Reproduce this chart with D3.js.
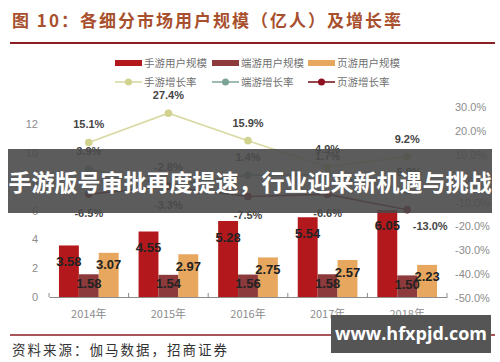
<!DOCTYPE html>
<html>
<head>
<meta charset="utf-8">
<script src="https://cdn.jsdelivr.net/npm/d3@7"></script>
<style>
  body { margin: 0; background: #fff; }
  svg { display: block; font-family: "Liberation Sans", Arial, "Noto Sans CJK SC", sans-serif; }
</style>
</head>
<body>
<svg id="chart" width="500" height="362"></svg>
<script>
const years = ["2014年", "2015年", "2016年", "2017年", "2018年"];
const barSeries = ["手游用户规模", "端游用户规模", "页游用户规模"];
const lineSeries = ["手游增长率", "端游增长率", "页游增长率"];

// user scale, 亿人
const mobileUsers = [3.58, 4.55, 5.28, 5.54, 6.05];
const pcUsers = [1.58, 1.54, 1.56, 1.58, 1.50];
const webUsers = [3.07, 2.97, 2.75, 2.57, 2.23];

// growth rate, %
const mobileGrowth = [15.1, 27.4, 15.9, 4.9, 9.2];
const pcGrowth = [3.9, -2.8, 1.4, 1.7, -5.0];
const webGrowth = [-6.5, -3.3, -7.5, -6.6, -13.0];

const leftTicks = [0, 2, 4, 6, 8, 10, 12];
const rightTicks = [-50, -40, -30, -20, -10, 0, 10, 20, 30];

const barColors = ["#b3191c", "#8c3a3b", "#e8a75e"];
const lineColors = ["#d9d9a3", "#86aa9f", "#7e1b22"];
const dotColors = ["#d2d28f", "#7ba497", "#8e0f1f"];
const barLabelDy = [16, 9, 12];

const svg = d3.select("#chart");

// title
svg.append("text")
    .attr("x", 12).attr("y", 27)
    .attr("font-family", "'Noto Sans CJK SC', sans-serif")
    .attr("font-size", 17).attr("font-weight", "bold")
    .attr("letter-spacing", 2)
    .attr("fill", "#a8502e")
    .text("图 10：各细分市场用户规模（亿人）及增长率");

svg.append("line")
    .attr("x1", 10).attr("x2", 495).attr("y1", 43).attr("y2", 43)
    .attr("stroke", "#8b1e22").attr("stroke-width", 2);

// scales
const x = d3.scaleBand().domain(years).range([49, 447]);
const x1 = d3.scaleBand().domain(barSeries).range([0, x.bandwidth()]).paddingOuter(0.5);
const yL = d3.scaleLinear().domain([0, 13.2]).range([297, 107]);
const yR = d3.scaleLinear().domain([-50, 30]).range([298, 107]);

// left axis
const gL = svg.append("g")
    .attr("transform", "translate(40,0)")
    .call(d3.axisLeft(yL).tickValues(leftTicks).tickSize(0).tickPadding(2));
gL.select(".domain").remove();
gL.selectAll("text").attr("fill", "#8c8c8c").attr("font-size", 11);

// right axis
const gR = svg.append("g")
    .attr("transform", "translate(453,0)")
    .call(d3.axisRight(yR).tickValues(rightTicks).tickSize(0).tickPadding(2)
        .tickFormat(d => d.toFixed(1) + "%"));
gR.select(".domain").remove();
gR.selectAll("text").attr("fill", "#8c8c8c").attr("font-size", 11);

// x axis
const gX = svg.append("g")
    .attr("transform", "translate(0,297)")
    .call(d3.axisBottom(x).tickSize(0).tickPadding(13));
gX.select(".domain").attr("stroke", "#8c8c8c");
gX.selectAll("text").attr("fill", "#8c8c8c").attr("font-size", 11)
    .attr("font-family", "'Noto Sans CJK SC', sans-serif");
const bounds = years.map(d => x(d)).concat([x(years[years.length - 1]) + x.step()]);
svg.append("g").selectAll("line")
    .data(bounds)
    .join("line")
    .attr("x1", d => d).attr("x2", d => d)
    .attr("y1", 297).attr("y2", 293)
    .attr("stroke", "#8c8c8c");

// bars
const barData = [mobileUsers, pcUsers, webUsers];
barData.forEach((vals, si) => {
    const g = svg.append("g");
    g.selectAll("rect")
        .data(vals)
        .join("rect")
        .attr("x", (d, i) => x(years[i]) + x1(barSeries[si]))
        .attr("y", d => yL(d))
        .attr("width", x1.bandwidth())
        .attr("height", d => yL(0) - yL(d))
        .attr("fill", barColors[si]);
});
barData.forEach((vals, si) => {
    svg.append("g").selectAll("text")
        .data(vals)
        .join("text")
        .attr("x", (d, i) => x(years[i]) + x1(barSeries[si]) + x1.bandwidth() / 2)
        .attr("y", d => yL(d) + barLabelDy[si])
        .attr("dy", "0.35em")
        .attr("text-anchor", "middle")
        .attr("font-family", "'Liberation Sans Narrow', 'Liberation Sans', sans-serif")
        .attr("font-size", 13).attr("font-weight", "bold")
        .attr("fill", "#222")
        .text(d => d.toFixed(2));
});

// lines
const lineData = [mobileGrowth, pcGrowth, webGrowth];
const cx = i => x(years[i]) + x.bandwidth() / 2;
const line = d3.line().x((d, i) => cx(i)).y(d => yR(d));
lineData.forEach((vals, si) => {
    svg.append("path")
        .datum(vals)
        .attr("fill", "none")
        .attr("stroke", lineColors[si])
        .attr("stroke-width", 1.6)
        .attr("d", line);
    svg.append("g").selectAll("circle")
        .data(vals)
        .join("circle")
        .attr("cx", (d, i) => cx(i))
        .attr("cy", d => yR(d))
        .attr("r", 3.8)
        .attr("fill", dotColors[si]);
});

// growth labels
lineData.forEach((vals, si) => {
    svg.append("g").selectAll("text")
        .data(vals)
        .join("text")
        .attr("x", (d, i) => cx(i) + (si === 2 && i === vals.length - 1 ? 23 : 0))
        .attr("y", (d, i) => {
            if (si === 2) return yR(d) + (i === vals.length - 1 ? 16 : 19);
            return yR(d) - 18;
        })
        .attr("dy", "0.35em")
        .attr("text-anchor", "middle")
        .attr("font-size", 11).attr("font-weight", "bold")
        .attr("fill", "#454545")
        .text(d => d.toFixed(1) + "%");
});

// legend
const legendX = [115, 212, 308];
const lg = svg.append("g")
    .attr("font-family", "'Noto Sans CJK SC', sans-serif")
    .attr("font-size", 10.5).attr("fill", "#707070");
barSeries.forEach((s, i) => {
    lg.append("rect").attr("x", legendX[i]).attr("y", 60).attr("width", 27).attr("height", 6)
        .attr("fill", barColors[i]);
    lg.append("text").attr("x", legendX[i] + 29).attr("y", 63).attr("dy", "0.35em").text(s);
});
lineSeries.forEach((s, i) => {
    lg.append("line").attr("x1", legendX[i]).attr("x2", legendX[i] + 27)
        .attr("y1", 82).attr("y2", 82).attr("stroke", lineColors[i]).attr("stroke-width", 1.6);
    lg.append("circle").attr("cx", legendX[i] + 13.5).attr("cy", 82).attr("r", 3.5)
        .attr("fill", dotColors[i]);
    lg.append("text").attr("x", legendX[i] + 29).attr("y", 82).attr("dy", "0.35em").text(s);
});

// bottom rule and source
svg.append("line")
    .attr("x1", 10).attr("x2", 495).attr("y1", 335).attr("y2", 335)
    .attr("stroke", "#8b1e22").attr("stroke-width", 1.5);
svg.append("text")
    .attr("x", 12).attr("y", 355)
    .attr("font-family", "'Noto Sans CJK SC', sans-serif")
    .attr("font-size", 13.5).attr("letter-spacing", 2)
    .attr("fill", "#333")
    .text("资料来源：伽马数据，招商证券");

// overlay banner
svg.append("rect")
    .attr("x", 8).attr("y", 149).attr("width", 484).attr("height", 64)
    .attr("fill", "#4a4a4a").attr("opacity", 0.9);
svg.append("text")
    .attr("x", 250).attr("y", 183).attr("dy", "0.35em")
    .attr("text-anchor", "middle")
    .attr("font-family", "'Noto Sans CJK SC', sans-serif")
    .attr("font-size", 23).attr("font-weight", "bold")
    .attr("fill", "#fff")
    .text("手游版号审批再度提速，行业迎来新机遇与挑战");

// watermark box
svg.append("rect")
    .attr("x", 331).attr("y", 315).attr("width", 160).attr("height", 38)
    .attr("fill", "#555");
svg.append("text")
    .attr("x", 411).attr("y", 334).attr("dy", "0.35em")
    .attr("text-anchor", "middle")
    .attr("font-family", "'Open Sans', sans-serif")
    .attr("font-size", 18).attr("font-weight", "bold")
    .attr("fill", "#fff")
    .text("www.hfxpjd.com");
</script>
</body>
</html>
